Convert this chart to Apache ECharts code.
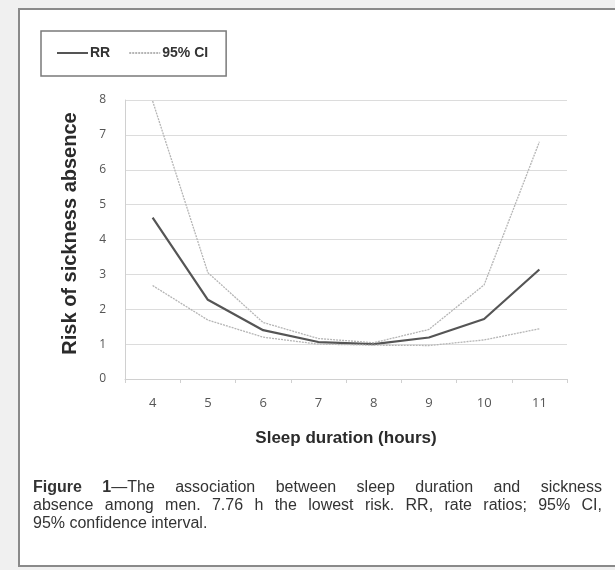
<!DOCTYPE html>
<html>
<head>
<meta charset="utf-8">
<script src="https://cdn.jsdelivr.net/npm/echarts@6/dist/echarts.min.js"></script>
<style>
html,body{margin:0;padding:0;background:#f0f0f0;}
#c{width:615px;height:570px;}
</style>
</head>
<body>
<div id="c"></div>
<script>
const hours = ['4','5','6','7','8','9','10','11'];
const rr = [4.63, 2.27, 1.40, 1.06, 1.00, 1.19, 1.72, 3.14];
const ciUpper = [7.97, 3.05, 1.62, 1.16, 1.04, 1.42, 2.70, 6.80];
const ciLower = [2.68, 1.69, 1.20, 1.00, 0.97, 0.96, 1.12, 1.44];
const yTicks = [0, 8, 1];
const captionBold = 'Figure 1';
const captionLines = [
  'Figure 1—The association between sleep duration and sickness',
  'absence among men. 7.76 h the lowest risk. RR, rate ratios; 95% CI,',
  '95% confidence interval.'
];

const chart = echarts.init(document.getElementById('c'));
const capFont = '16px "Liberation Sans", Arial, sans-serif';
const capBold = 'bold 16px "Liberation Sans", Arial, sans-serif';
const cv = document.createElement('canvas').getContext('2d');
function w(t, f){ cv.font = f; return cv.measureText(t).width; }

const capLeft = 33, capRight = 602, capTop = [480, 498, 516];
const graphics = [
  {type:'rect', shape:{x:19, y:9, width:620, height:557}, style:{fill:'#fff', stroke:'#8a8a8a', lineWidth:2}, z:-10}
];
captionLines.forEach((ln, i) => {
  const items = ln.split(' ').map((wd, j) => {
    if (i === 0 && j === 0) return {parts:[{t:wd, f:capBold}]};
    if (i === 0 && j === 1) return {parts:[{t:'1', f:capBold},{t:wd.slice(1), f:capFont}]};
    return {parts:[{t:wd, f:capFont}]};
  });
  items.forEach(it => { it.w = it.parts.reduce((s,p)=>s+w(p.t,p.f),0); });
  const total = items.reduce((s,it)=>s+it.w,0);
  const justify = i < captionLines.length - 1;
  const gap = justify ? (capRight - capLeft - total) / (items.length - 1) : w(' ', capFont);
  let x = capLeft;
  items.forEach(it => {
    let px = x;
    it.parts.forEach(p => {
      graphics.push({type:'text', x:px, y:capTop[i], style:{text:p.t, font:p.f, fill:'#333'}});
      px += w(p.t, p.f);
    });
    x += it.w + gap;
  });
});

chart.setOption({
  animation:false,
  backgroundColor:'transparent',
  graphic: graphics,
  legend:{
    left:41, top:31,
    padding:[15,18,16,15],
    borderColor:'#7a7a7a', borderWidth:1.5,
    itemWidth:31, itemHeight:14, itemGap:18,
    itemStyle:{opacity:0},
    textStyle:{fontFamily:'"Liberation Sans Narrow","Liberation Sans",Arial,sans-serif', fontWeight:'bold', fontSize:14, color:'#333', padding:[0,0,0,-3]},
    data:['RR','95% CI']
  },
  grid:{left:125, right:48, top:100, bottom:191},
  xAxis:{
    type:'category', data:hours, boundaryGap:true,
    name:'Sleep duration (hours)', nameLocation:'middle', nameGap:51,
    nameTextStyle:{fontFamily:'"Liberation Sans Narrow","Liberation Sans",Arial,sans-serif', fontWeight:'bold', fontSize:17, color:'#2b2b2b'},
    axisLine:{lineStyle:{color:'#d0d0d0', width:1}},
    axisTick:{show:true, length:4, lineStyle:{color:'#d0d0d0'}},
    axisLabel:{margin:18, fontSize:13, color:'#555', fontFamily:'"Open Sans","DejaVu Sans",sans-serif'}
  },
  yAxis:{
    type:'value', min:yTicks[0], max:yTicks[1], interval:yTicks[2],
    name:'Risk of sickness absence', nameLocation:'middle', nameGap:45,
    nameTextStyle:{fontFamily:'"Liberation Sans Narrow","Liberation Sans",Arial,sans-serif', fontWeight:'bold', fontSize:20, color:'#2b2b2b', padding:[0,0,0,12]},
    axisLine:{show:true, lineStyle:{color:'#d0d0d0', width:1}},
    axisTick:{show:false},
    splitLine:{lineStyle:{color:'#dcdcdc', width:1.2}},
    axisLabel:{margin:19, fontSize:12, color:'#555', fontFamily:'"Open Sans","DejaVu Sans",sans-serif'}
  },
  series:[
    {name:'RR', type:'line', data:rr, symbol:'none', lineStyle:{color:'#555', width:2.2}, itemStyle:{color:'#555'}, z:3},
    {name:'95% CI', type:'line', data:ciUpper, symbol:'none', lineStyle:{color:'#b5b5b5', width:1.3, type:[2,1]}, itemStyle:{color:'#b5b5b5'}},
    {name:'95% CI', type:'line', data:ciLower, symbol:'none', lineStyle:{color:'#b5b5b5', width:1.3, type:[2,1]}, itemStyle:{color:'#b5b5b5'}}
  ]
});
</script>
</body>
</html>
